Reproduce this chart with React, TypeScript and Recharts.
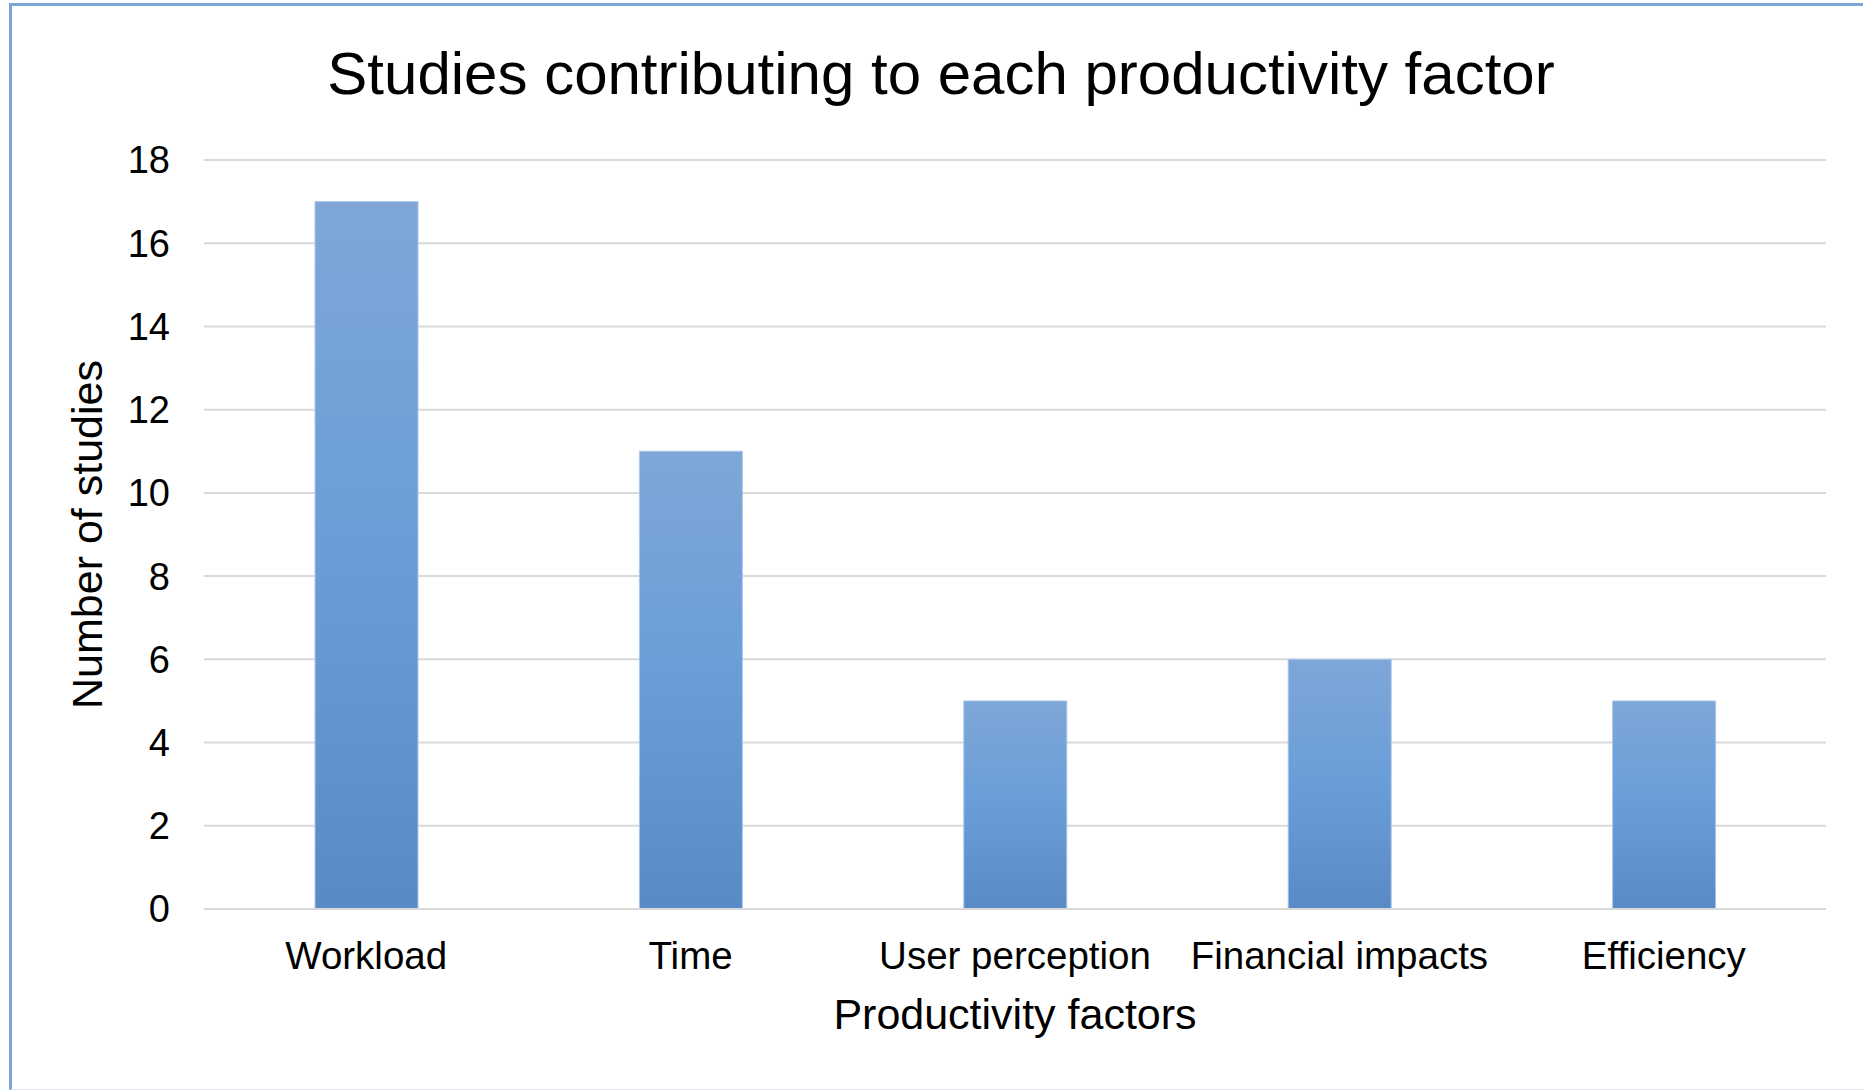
import { BarChart, Bar, XAxis, YAxis, CartesianGrid, Label } from 'recharts'

const FONT = '"Liberation Sans", Arial, Helvetica, sans-serif'
const GRID = '#d9d9d9'
const FRAME = '#7ba6d8'

const factors = ['Workload', 'Time', 'User perception', 'Financial impacts', 'Efficiency']
const studies = [17, 11, 5, 6, 5]
const yTicks = [0, 2, 4, 6, 8, 10, 12, 14, 16, 18]

const data = factors.map((name, i) => ({ name, studies: studies[i] }))

export default function App() {
  return (
    <div style={{ position: 'absolute', left: 0, top: 0, width: 1863, height: 1091, background: '#fff', fontFamily: FONT, overflow: 'hidden' }}>
      {/* chart frame: left + top edges, right side is cut off in the source */}
      <div style={{
        position: 'absolute', left: 9, top: 3, width: 1854, height: 1083,
        borderLeft: `3px solid ${FRAME}`, borderTop: `3px solid ${FRAME}`,
        borderBottom: '1px solid #dde8f5',
      }} />

      <div style={{
        position: 'absolute', left: 141, top: 44, width: 1600,
        textAlign: 'center', fontSize: 60, lineHeight: '60px', color: '#000',
        whiteSpace: 'nowrap',
      }}>
        Studies contributing to each productivity factor
      </div>

      <div style={{ position: 'absolute', left: 0, top: 0 }}>
        <BarChart
          width={1863}
          height={1091}
          data={data}
          margin={{ top: 160, right: 37, bottom: 0, left: 0 }}
          barSize={103}
        >
          <defs>
            <linearGradient id="barFill" x1="0" y1="0" x2="0" y2="1">
              <stop offset="0%" stopColor="#7ea7d8" />
              <stop offset="50%" stopColor="#6a9dd8" />
              <stop offset="100%" stopColor="#5a8ac6" />
            </linearGradient>
          </defs>
          <CartesianGrid vertical={false} stroke={GRID} strokeWidth={2} />
          <XAxis
            dataKey="name"
            height={182}
            axisLine={{ stroke: GRID, strokeWidth: 2 }}
            tickLine={false}
            tickSize={0}
            tickMargin={33}
            interval={0}
            tick={{ fill: '#000', fontSize: 38.5, fontFamily: FONT }}
          >
            <Label
              value="Productivity factors"
              position="insideBottom"
              offset={62}
              style={{ fill: '#000', fontSize: 43, fontFamily: FONT }}
            />
          </XAxis>
          <YAxis
            width={204}
            domain={[0, 18]}
            ticks={yTicks}
            interval={0}
            axisLine={false}
            tickLine={false}
            tickSize={0}
            tickMargin={34}
            tick={{ fill: '#000', fontSize: 38, fontFamily: FONT }}
          >
            <Label
              value="Number of studies"
              angle={-90}
              position="insideLeft"
              offset={87}
              style={{ fill: '#000', fontSize: 43, fontFamily: FONT, textAnchor: 'middle' }}
            />
          </YAxis>
          <Bar
            dataKey="studies"
            fill="url(#barFill)"
            stroke="#a9c6ea"
            strokeWidth={1}
            isAnimationActive={false}
          />
        </BarChart>
      </div>
    </div>
  )
}
